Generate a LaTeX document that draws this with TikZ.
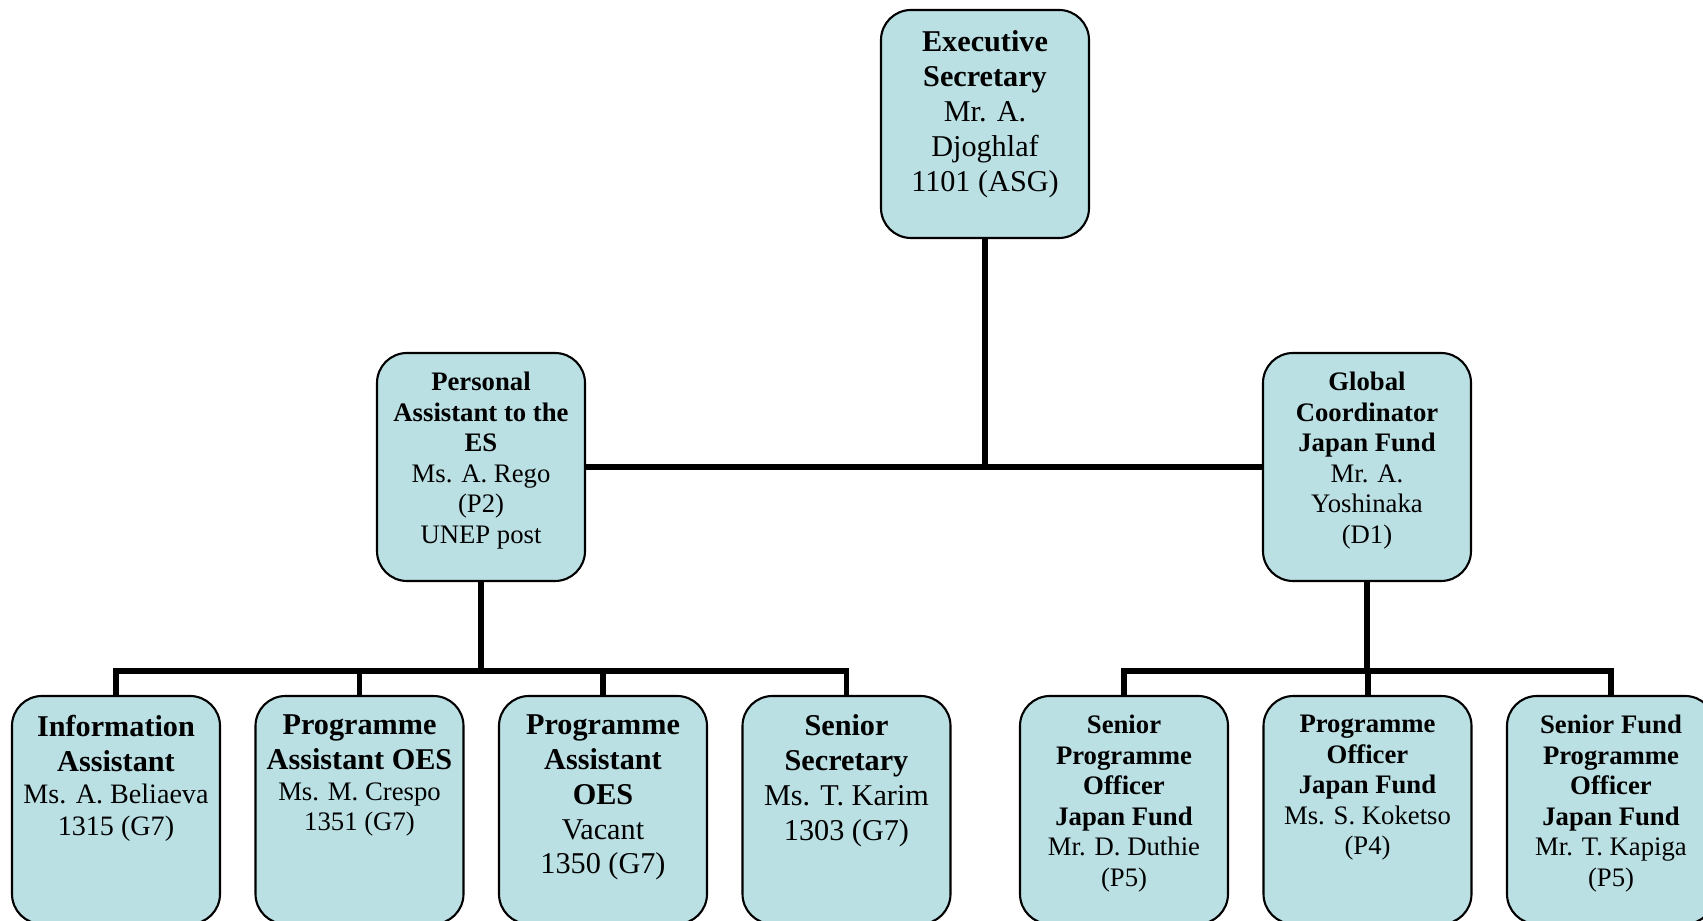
\documentclass[tikz,border=0pt]{standalone}
\usepackage{fontspec}
\setmainfont{Liberation Serif}
\usetikzlibrary{calc}
\definecolor{boxblue}{RGB}{186,224,228}
\tikzstyle{unit} = [draw=black, line width=0.6pt, fill=boxblue, rounded corners=0.3cm, minimum width=2.08cm, minimum height=2.28cm, inner sep=0pt]
\tikzstyle{link} = [line width=1.7pt]
\newcommand{\lrg}{\fontsize{8.6}{9.9}\selectfont}
\newcommand{\mdm}{\fontsize{8}{9.2}\selectfont}
\newcommand{\sml}{\fontsize{7.6}{8.7}\selectfont}
\newcommand{\unittext}[1]{\parbox[c][2.28cm][t]{2.06cm}{\vspace*{0.19cm}\centering #1\par}}

\begin{document}
\begin{tikzpicture}
\useasboundingbox (0,0) rectangle (17.03,9.21);
% top
\draw (9.85,7.97) node (es) [unit] {\unittext{\vspace*{0.02cm}\lrg\textbf{Executive\\Secretary}\\Mr. A.\\Djoghlaf\\1101 (ASG)}};
% second level
\draw (4.81,4.54) node (pa) [unit] {\unittext{\sml\textbf{Personal\\Assistant to the\\ES}\\Ms. A. Rego\\(P2)\\UNEP post}};
\draw (13.67,4.54) node (gc) [unit] {\unittext{\sml\textbf{Global\\Coordinator\\Japan Fund}\\Mr. A.\\Yoshinaka\\(D1)}};
% bottom row, left
\draw (1.16,1.11) node (ia) [unit] {\unittext{\lrg\textbf{Information\\Assistant}\par\mdm Ms. A. Beliaeva\\1315 (G7)}};
\draw (3.595,1.11) node (pao) [unit] {\unittext{\lrg\textbf{Programme\\Assistant OES}\par\sml Ms. M. Crespo\\1351 (G7)}};
\draw (6.03,1.11) node (pav) [unit] {\unittext{\lrg\textbf{Programme\\Assistant\\OES}\\Vacant\\1350 (G7)}};
\draw (8.465,1.11) node (ss) [unit] {\unittext{\lrg\textbf{Senior\\Secretary}\\Ms. T. Karim\\1303 (G7)}};
% bottom row, right
\draw (11.24,1.11) node (spo) [unit] {\unittext{\sml\textbf{Senior\\Programme\\Officer\\Japan Fund}\\Mr. D. Duthie\\(P5)}};
\draw (13.675,1.11) node (po) [unit] {\unittext{\sml\textbf{Programme\\Officer\\Japan Fund}\\Ms. S. Koketso\\(P4)}};
\draw (16.11,1.11) node (sfpo) [unit] {\unittext{\sml\textbf{Senior Fund\\Programme\\Officer\\Japan Fund}\\Mr. T. Kapiga\\(P5)}};
% links
\draw [link] (pa.east)--(gc.west);
\draw [link] (es.south)--(es.south |- pa.east);
\draw [link] (pa.south)--++(0,-0.89) coordinate (lbus);
\draw [link] (ia.north) |- (lbus) -| (ss.north);
\draw [link] (pao.north)--(pao.north |- lbus);
\draw [link] (pav.north)--(pav.north |- lbus);
\draw [link] (gc.south)--++(0,-0.89) coordinate (rbus);
\draw [link] (spo.north) |- (rbus) -| (sfpo.north);
\draw [link] (po.north)--(po.north |- rbus);
\end{tikzpicture}
\end{document}
